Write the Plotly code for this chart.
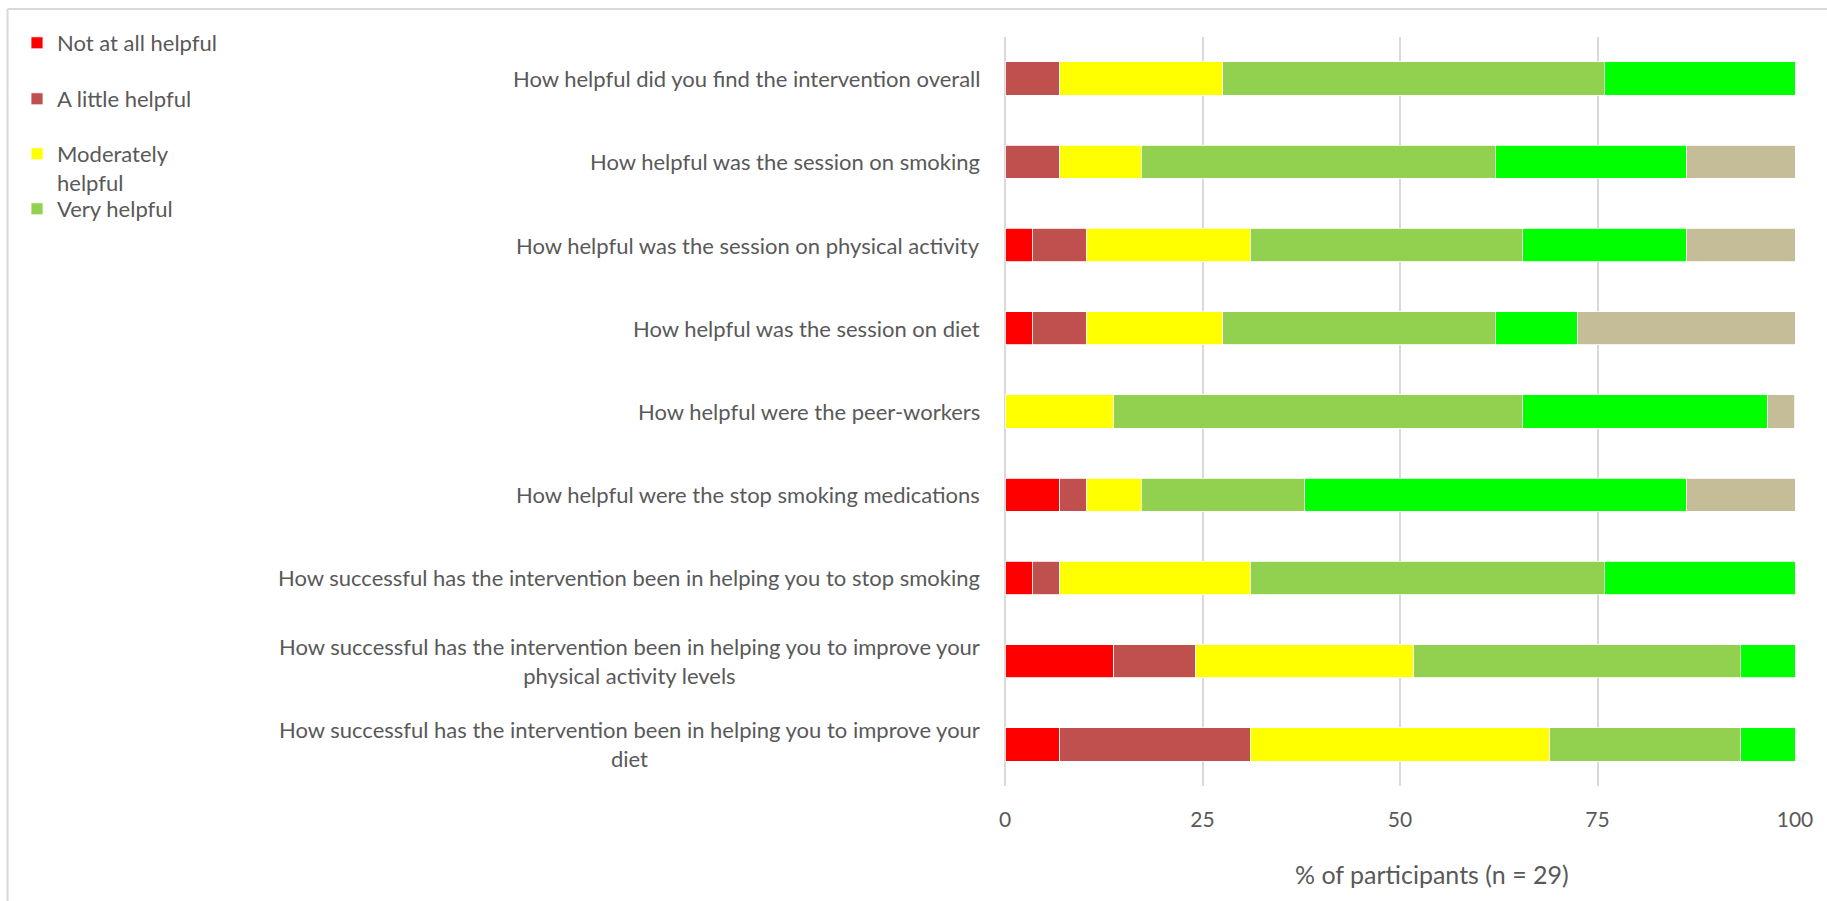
import plotly.graph_objects as go

questions = [
    "How helpful did you find the intervention overall",
    "How helpful was the session on smoking",
    "How helpful was the session on physical activity",
    "How helpful was the session on diet",
    "How helpful were the peer-workers",
    "How helpful were the stop smoking medications",
    "How successful has the intervention been in helping you to stop smoking",
    "How successful has the intervention been in helping you to improve your<br>physical activity levels",
    "How successful has the intervention been in helping you to improve your<br>diet",
]

not_at_all = [0, 0, 3.45, 3.45, 0, 6.90, 3.45, 13.79, 6.90]
a_little = [6.90, 6.90, 6.90, 6.90, 0, 3.45, 3.45, 10.34, 24.14]
moderately = [20.69, 10.34, 20.69, 17.24, 13.79, 6.90, 24.14, 27.59, 37.93]
very = [48.28, 44.83, 34.48, 34.48, 51.72, 20.69, 44.83, 41.38, 24.14]
extremely = [24.14, 24.14, 20.69, 10.34, 31.03, 48.28, 24.14, 6.90, 6.90]
not_applicable = [0, 13.79, 13.79, 27.59, 3.45, 13.79, 0, 0, 0]

series_names = ["Not at all helpful", "A little helpful", "Moderately<br>helpful",
                "Very helpful", "Extremely helpful", "Not applicable"]
series_values = [not_at_all, a_little, moderately, very, extremely, not_applicable]
series_colors = ["#FF0000", "#C0504D", "#FFFF00", "#92D050", "#00FF00", "#C4BD97"]
legend_ids = ["legend", "legend2", "legend3", "legend4", None, None]

x_ticks = [0, 25, 50, 75, 100]
x_title = "% of participants (n = 29)"

FONT = "Lato"
GREY = "#595959"
W, H = 1827, 901
L, R, T, B = 1005, 32, 37, 115

fig = go.Figure()
for name, vals, col, lg in zip(series_names, series_values, series_colors, legend_ids):
    fig.add_trace(go.Bar(
        y=questions, x=vals, name=name, orientation="h",
        marker=dict(color=col, line=dict(color="white", width=0.8)),
        showlegend=lg is not None,
        legend=lg if lg else "legend",
    ))

leg_common = dict(xref="container", yref="container", xanchor="left",
                  font=dict(family=FONT, size=22, color=GREY),
                  bgcolor="rgba(0,0,0,0)", borderwidth=0, itemclick=False)
legend_centres = [43, 99, 154, 209]
layout_legends = {}
for i, cy in enumerate(legend_centres):
    key = "legend" if i == 0 else f"legend{i+1}"
    d = dict(leg_common)
    d.update(x=17 / W, y=1 - (cy - 21) / H, yanchor="top", valign="top")
    layout_legends[key] = d

fig.update_layout(
    width=W, height=H,
    margin=dict(l=L, r=R, t=T, b=B),
    barmode="stack", bargap=0.6,
    plot_bgcolor="white", paper_bgcolor="white",
    font=dict(family=FONT, size=22, color=GREY),
    xaxis=dict(range=[0, 100], tickvals=x_ticks, showgrid=True, gridcolor="#D9D9D9",
               gridwidth=2, zeroline=True, zerolinecolor="#D9D9D9", zerolinewidth=2,
               showline=False, ticks="", ticklabelstandoff=19,
               tickfont=dict(family=FONT, size=21, color=GREY)),
    yaxis=dict(categoryorder="array", categoryarray=questions, autorange="reversed",
               showticklabels=False, showgrid=False, zeroline=False, showline=False),
    **layout_legends,
)

for q in questions:
    fig.add_annotation(x=0, y=q, xref="paper", yref="y", text=q, showarrow=False,
                       xanchor="right", yanchor="middle", align="center", xshift=-23,
                       font=dict(family=FONT, size=22, color=GREY))

plot_h = H - T - B
plot_w = W - L - R
fig.add_annotation(x=(1432 - L) / plot_w, y=-(874 - (H - B)) / plot_h, xref="paper", yref="paper",
                   text=x_title, showarrow=False, xanchor="center", yanchor="middle",
                   font=dict(family=FONT, size=25, color=GREY))

# outer chart frame (left and top edges visible)
fx = (7.5 - L) / plot_w
fy_top = 1 + (T - 9) / plot_h
fy_bot = -(H - (H - B)) / plot_h - 0.01
fx_right = (W - L) / plot_w + 0.01
fig.add_shape(type="line", xref="paper", yref="paper", x0=fx, x1=fx, y0=fy_bot, y1=fy_top,
              line=dict(color="#D9D9D9", width=2))
fig.add_shape(type="line", xref="paper", yref="paper", x0=fx, x1=fx_right, y0=fy_top, y1=fy_top,
              line=dict(color="#D9D9D9", width=2))

fig.write_html("out.html")
